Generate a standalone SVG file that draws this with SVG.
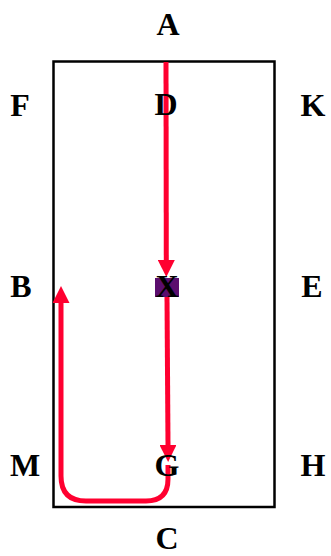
<svg xmlns="http://www.w3.org/2000/svg" width="331" height="556" viewBox="0 0 331 556">
<style>
.lbl{font-family:"Liberation Serif","Times New Roman",serif;font-weight:bold;font-size:32px;fill:#000;text-anchor:middle}
.red{fill:none;stroke:#ff0030;stroke-width:5}
</style>
<defs>
<marker id="ah" markerUnits="userSpaceOnUse" markerWidth="17" markerHeight="17" refX="0" refY="8.5" orient="auto" viewBox="0 0 17 17">
<path d="M0,0 L17,8.5 L0,17 z" fill="#ff0030"/>
</marker>
</defs>
<rect x="53.5" y="61.5" width="221" height="445.5" fill="#fff" stroke="#000" stroke-width="2.5"/>
<g id="node-X-box"><rect x="155" y="278" width="24" height="19" fill="#5b0e6e"/></g>
<g id="connectors">
<path class="red" d="M166,62 L166.3,260" marker-end="url(#ah)"/>
<path class="red" d="M167,297 L168,445" marker-end="url(#ah)"/>
<path class="red" d="M168,465 L168,479 Q168,501 146,501 L86,501 Q61,501 61,476 L61,303" marker-end="url(#ah)"/>
</g>
<g id="node-A"><text class="lbl" x="168" y="35">A</text></g>
<g id="node-F"><text class="lbl" x="20" y="116">F</text></g>
<g id="node-D"><text class="lbl" x="166" y="115">D</text></g>
<g id="node-K"><text class="lbl" x="313" y="116">K</text></g>
<g id="node-B"><text class="lbl" x="21" y="297">B</text></g>
<g id="node-X"><text class="lbl" x="167" y="297">X</text></g>
<g id="node-E"><text class="lbl" x="312" y="297">E</text></g>
<g id="node-M"><text class="lbl" x="25" y="476">M</text></g>
<g id="node-G"><text class="lbl" x="167" y="476">G</text></g>
<g id="node-H"><text class="lbl" x="313" y="476">H</text></g>
<g id="node-C"><text class="lbl" x="167" y="549">C</text></g>
</svg>
